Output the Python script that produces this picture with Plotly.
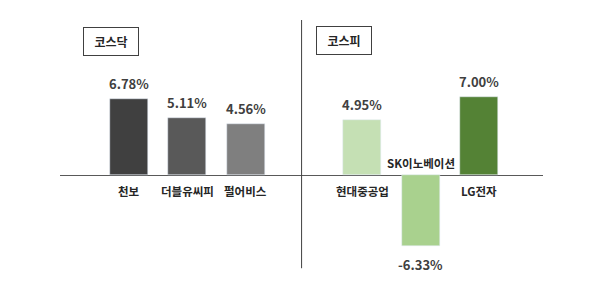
import plotly.graph_objects as go

kosdaq_names = ["천보", "더블유씨피", "펄어비스"]
kosdaq_values = [6.78, 5.11, 4.56]
kosdaq_colors = ["#404040", "#595959", "#7f7f7f"]

kospi_names = ["현대중공업", "SK이노베이션", "LG전자"]
kospi_values = [4.95, -6.33, 7.00]
kospi_colors = ["#c5e0b4", "#a9d18e", "#548235"]

group_titles = ["코스닥", "코스피"]

FONT = "Noto Sans CJK KR"

# positions: left group slots 0..2, gap slot, right group slots 4..6
kosdaq_x = list(range(len(kosdaq_names)))
kospi_x = [len(kosdaq_names) + 1 + i for i in range(len(kospi_names))]
divider_x = (kosdaq_x[-1] + kospi_x[0]) / 2

fig = go.Figure()
fig.add_trace(go.Bar(x=kosdaq_x, y=kosdaq_values, marker_color=kosdaq_colors,
                     width=0.65, showlegend=False, hoverinfo="skip"))
fig.add_trace(go.Bar(x=kospi_x, y=kospi_values, marker_color=kospi_colors,
                     width=0.65, showlegend=False, hoverinfo="skip"))

annotations = []
for xs, names, vals in [(kosdaq_x, kosdaq_names, kosdaq_values),
                        (kospi_x, kospi_names, kospi_values)]:
    for x, n, v in zip(xs, names, vals):
        pos = v >= 0
        annotations.append(dict(
            x=x, y=v, xref="x", yref="y", text=f"<b>{v:.2f}%</b>",
            showarrow=False, yanchor="bottom" if pos else "top",
            yshift=4 if pos else -7,
            font=dict(family=FONT, size=13, color="#404040")))
        annotations.append(dict(
            x=x, y=0, xref="x", yref="y", text=f"<b>{n}</b>",
            showarrow=False, yanchor="middle",
            yshift=-16 if pos else 12,
            font=dict(family=FONT, size=11.5, color="#262626")))

for title, cx, cy in [(group_titles[0], 0.1046, 0.913), (group_titles[1], 0.589, 0.919)]:
    annotations.append(dict(
        x=cx, y=cy, xref="paper", yref="paper", text=f"<b>{title}</b>",
        showarrow=False, xanchor="center", yanchor="middle",
        width=54, height=27, borderpad=0, borderwidth=1, bordercolor="#404040",
        font=dict(family=FONT, size=12, color="#262626")))

fig.update_layout(
    width=600, height=300,
    margin=dict(l=60, r=57, t=20, b=28),
    paper_bgcolor="white", plot_bgcolor="white",
    bargap=0,
    annotations=annotations,
    shapes=[dict(type="line", xref="x", yref="paper", x0=divider_x - 0.04, x1=divider_x - 0.04,
                 y0=0.015, y1=1.0, line=dict(color="#404040", width=1))],
    xaxis=dict(range=[-1.183, 7.10], showgrid=False, showticklabels=False,
               zeroline=False, showline=False, ticks=""),
    yaxis=dict(range=[-8.66, 13.84], showgrid=False, showticklabels=False,
               zeroline=True, zerolinecolor="#595959", zerolinewidth=1,
               showline=False, ticks=""),
)

fig.write_html("out.html")
